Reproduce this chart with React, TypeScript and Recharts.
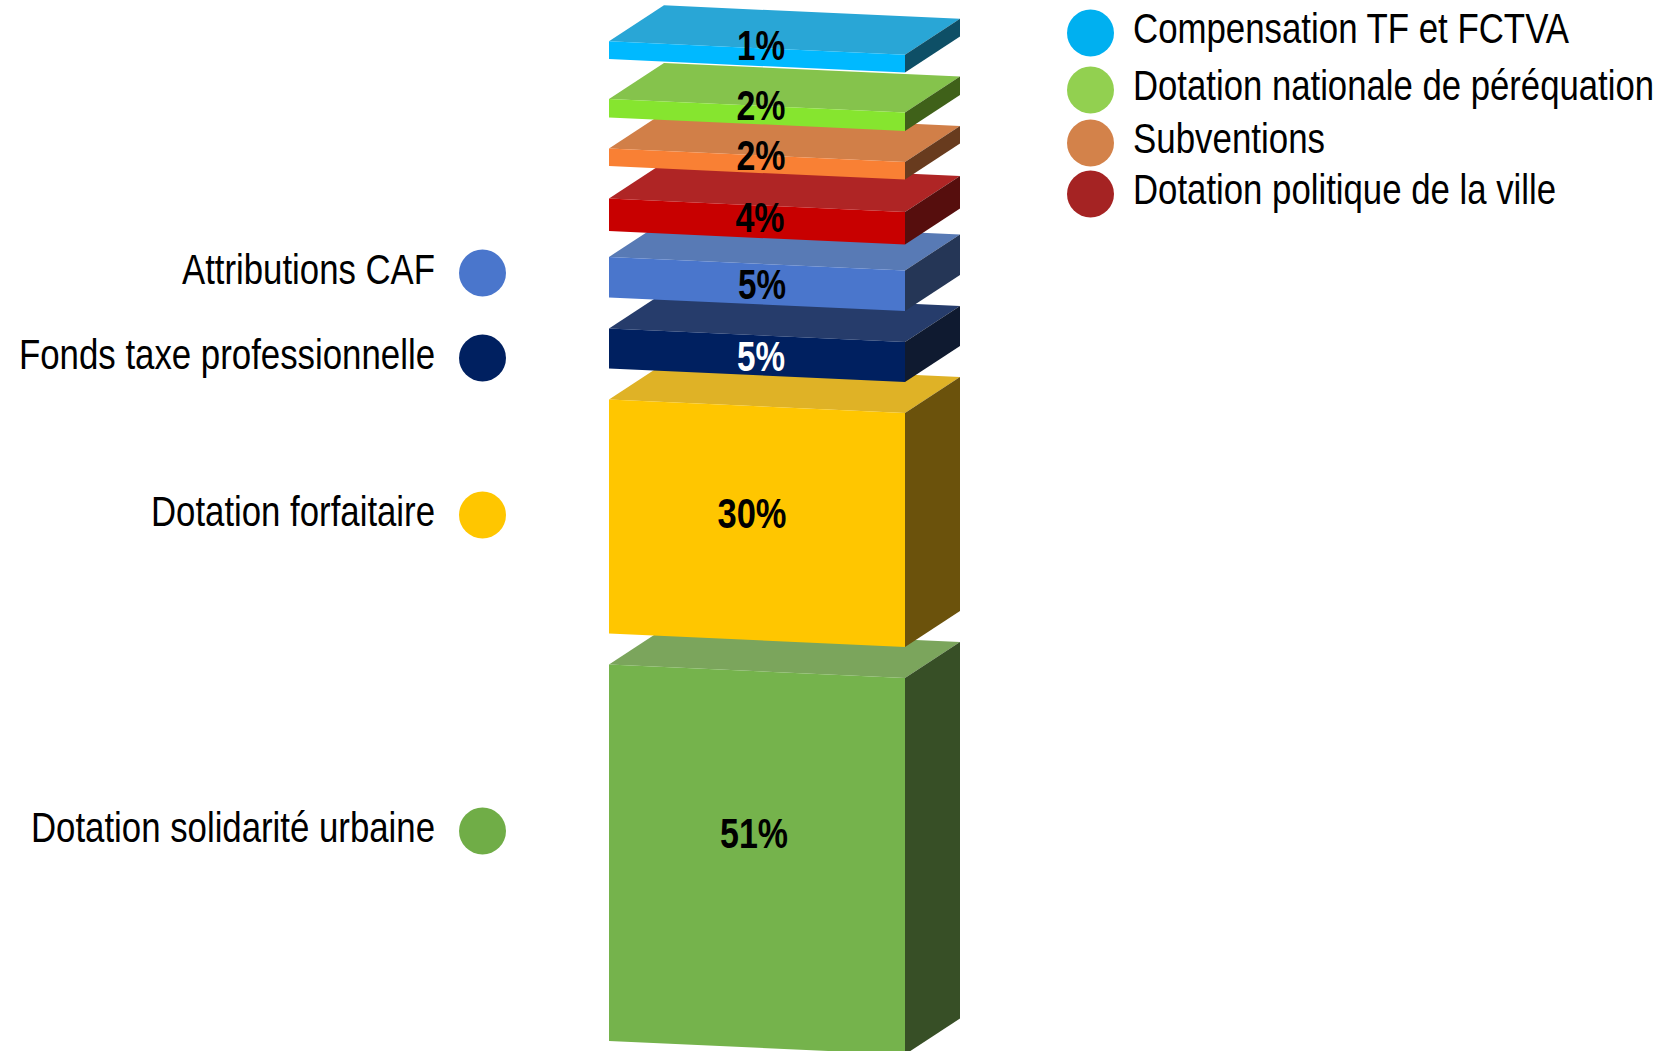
import React from 'react';
import { BarChart, Bar, XAxis, YAxis, LabelList, Customized } from 'recharts';

// bottom of the stack first
const categories = [
  'Dotation solidarité urbaine',
  'Dotation forfaitaire',
  'Fonds taxe professionnelle',
  'Attributions CAF',
  'Dotation politique de la ville',
  'Subventions',
  'Dotation nationale de péréquation',
  'Compensation TF et FCTVA',
];
const percentLabels = ['51%', '30%', '5%', '5%', '4%', '2%', '2%', '1%'];
// drawn thickness of each slab
const blockHeights = [51, 31.7, 5.4, 5.5, 4.4, 2.4, 2.5, 2.4];
// empty space above each slab
const gapsAbove = [4.2, 4.2, 4.2, 3.5, 4.4, 4.2, 5.4];

const blockColors = [
  { front: '#75B34C', top: '#7BA55C', side: '#374F26' },
  { front: '#FFC600', top: '#DFB226', side: '#6B520C' },
  { front: '#002060', top: '#263C6B', side: '#0F1A30' },
  { front: '#4A76CC', top: '#587AB5', side: '#253656' },
  { front: '#C80000', top: '#AF2525', side: '#560E0D' },
  { front: '#F98034', top: '#D17F48', side: '#683B1E' },
  { front: '#86E52F', top: '#85C34C', side: '#3F6119' },
  { front: '#00B9FF', top: '#29A6D6', side: '#0E4F66' },
];
const labelOffsets = [
  [-3, -5],
  [-5, 12],
  [4, 23],
  [5, 22],
  [3, 17],
  [4, 13],
  [4, 12],
  [4, 10],
];
const labelWidths = [68, 69, 48, 48, 49, 49, 49, 48];
const labelColors = ['#000', '#000', '#fff', '#000', '#000', '#000', '#000', '#000'];

const leftLegend = [
  { name: categories[3], color: '#4A76CC', cy: 273, base: 284, w: 253 },
  { name: categories[2], color: '#002060', cy: 358, base: 369, w: 416 },
  { name: categories[1], color: '#FFC600', cy: 515, base: 526, w: 284 },
  { name: categories[0], color: '#70AD47', cy: 831, base: 842, w: 404 },
];
const rightLegend = [
  { name: categories[7], color: '#00B0F0', cy: 33, base: 43, w: 436 },
  { name: categories[6], color: '#92D050', cy: 90, base: 100, w: 521 },
  { name: categories[5], color: '#D3824A', cy: 143, base: 153, w: 192 },
  { name: categories[4], color: '#A52323', cy: 194, base: 204, w: 423 },
];

const row: Record<string, number | string> = { name: 'Recettes' };
blockHeights.forEach((h, i) => {
  row[`block${i}`] = h;
  row[`label${i}`] = percentLabels[i];
  if (i < gapsAbove.length) row[`gap${i}`] = gapsAbove[i];
});
const chartData = [row];

const FONT = '"Liberation Sans", Arial, sans-serif';
const SKEW = 13.5;
const DEPTH_X = 55;
const DEPTH_Y = 36;

const pts = (list: number[][]) => list.map((p) => p.join(',')).join(' ');

function Block3D({ x, y, width, height, colors }: any) {
  const r = x + width;
  const b = y + height;
  return (
    <g>
      <polygon
        fill={colors.top}
        points={pts([[x, y], [x + DEPTH_X, y - DEPTH_Y], [r + DEPTH_X, y + SKEW - DEPTH_Y], [r, y + SKEW]])}
      />
      <polygon
        fill={colors.side}
        points={pts([[r, y + SKEW], [r + DEPTH_X, y + SKEW - DEPTH_Y], [r + DEPTH_X, b + SKEW - DEPTH_Y], [r, b + SKEW]])}
      />
      <polygon
        fill={colors.front}
        points={pts([[x, y], [r, y + SKEW], [r, b + SKEW], [x, b]])}
      />
    </g>
  );
}

function PercentLabel(props: any, i: number) {
  const box = props.viewBox ?? props;
  return (
    <text
      x={box.x + box.width / 2 + labelOffsets[i][0]}
      y={box.y + box.height / 2 + labelOffsets[i][1]}
      textAnchor="middle"
      fontFamily={FONT}
      fontWeight="bold"
      fontSize={42}
      textLength={labelWidths[i]}
      lengthAdjust="spacingAndGlyphs"
      fill={labelColors[i]}
    >
      {props.value}
    </text>
  );
}

function Legends() {
  return (
    <g fontFamily={FONT} fontSize={42} fill="#000">
      {leftLegend.map((d) => (
        <g key={d.name}>
          <circle cx={482.5} cy={d.cy} r={23.5} fill={d.color} />
          <text x={435} y={d.base} textAnchor="end" textLength={d.w} lengthAdjust="spacingAndGlyphs">
            {d.name}
          </text>
        </g>
      ))}
      {rightLegend.map((d) => (
        <g key={d.name}>
          <circle cx={1090.5} cy={d.cy} r={23.5} fill={d.color} />
          <text x={1133} y={d.base} textLength={d.w} lengthAdjust="spacingAndGlyphs">
            {d.name}
          </text>
        </g>
      ))}
    </g>
  );
}

export default function App() {
  return (
    <div style={{ position: 'absolute', left: 0, top: 0 }}>
      <BarChart
        width={1665}
        height={1051}
        data={chartData}
        barSize={296}
        margin={{ top: 0, right: 651, bottom: 10, left: 500 }}
      >
        <XAxis dataKey="name" hide />
        <YAxis hide domain={[0, 141]} />
        {blockHeights.map((_, i) => [
          <Bar
            key={`block${i}`}
            dataKey={`block${i}`}
            stackId="s"
            isAnimationActive={false}
            shape={(p: any) => <Block3D {...p} colors={blockColors[i]} />}
          >
            <LabelList dataKey={`label${i}`} content={(p: any) => PercentLabel(p, i)} />
          </Bar>,
          i < gapsAbove.length ? (
            <Bar key={`gap${i}`} dataKey={`gap${i}`} stackId="s" fill="none" isAnimationActive={false} />
          ) : null,
        ])}
        <Customized component={Legends} />
      </BarChart>
    </div>
  );
}
